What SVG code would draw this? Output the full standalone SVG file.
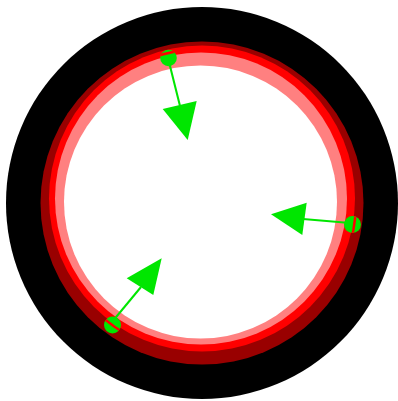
<svg xmlns="http://www.w3.org/2000/svg" width="398" height="401" viewBox="0 0 398 401">
<style>
.g{fill:#00e600}
.ln{stroke:#00e600;stroke-width:2;fill:none}
</style>
<defs>
<clipPath id="dots">
<circle cx="168.5" cy="58" r="8.3"/>
<circle cx="352.5" cy="224.5" r="8.5"/>
<circle cx="112.5" cy="325" r="8.5"/>
</clipPath>
</defs>
<rect width="398" height="401" fill="#fff"/>
<g id="rings">
<circle cx="202" cy="203" r="196" fill="#000"/>
<circle cx="202" cy="203" r="161.5" fill="#990000"/>
<circle cx="202" cy="198.5" r="153" fill="#ff0000"/>
<circle cx="201" cy="198.5" r="146" fill="#ff8080"/>
<circle cx="200.5" cy="202" r="136.5" fill="#fff"/>
</g>
<g id="connectors">
<line class="ln" x1="168" y1="58" x2="180" y2="106"/>
<polygon class="g" points="162.7,109 196.7,101 187.7,140"/>
<line class="ln" x1="350" y1="223" x2="303" y2="219"/>
<polygon class="g" points="306.7,202.7 302.3,235 271,214.3"/>
<line class="ln" x1="112" y1="322" x2="141" y2="287"/>
<polygon class="g" points="126.7,278.3 153.3,295 161.7,258.3"/>
</g>
<g id="node-top"><circle class="g" cx="168.5" cy="58" r="8.3"/></g>
<g id="node-right"><circle class="g" cx="352.5" cy="224.5" r="8.5"/></g>
<g id="node-bottomleft"><circle class="g" cx="112.5" cy="325" r="8.5"/></g>
<circle cx="203" cy="202" r="153" fill="none" stroke="#ff0000" stroke-width="2.5" clip-path="url(#dots)"/>
</svg>
